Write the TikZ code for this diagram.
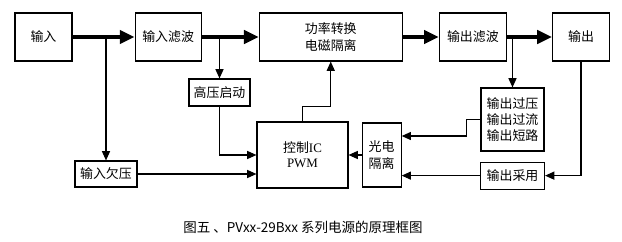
\documentclass[tikz,border=0pt]{standalone}
\usepackage{fontspec}
\newfontfamily\cjk{Noto Sans CJK SC}
\newfontfamily\latin{Liberation Serif}
\usetikzlibrary{positioning, arrows.meta}

\begin{document}
\begin{tikzpicture}[
  x=1mm, y=-1mm,
  blk/.style={draw, line width=0.8pt, inner sep=0pt, align=center,
              font=\cjk\fontsize{9.2pt}{11.5pt}\selectfont},
  topblk/.style={blk, minimum height=12mm},
  bigarr/.style={-{Triangle[length=3.7mm, width=3.3mm]}, line width=3pt},
  arr/.style={-{Triangle[length=2.3mm, width=2mm]}, line width=0.8pt},
  captxt/.style={font=\cjk\fontsize{9.6pt}{11pt}\selectfont},
]
\useasboundingbox (0,0) rectangle (155.5,60.25);

% Main power path
\node[topblk, minimum width=14.25mm] (in) at (10.875,9.25) {输入};
\node[topblk, minimum width=16.5mm, right=15.5mm of in] (inflt) {输入滤波};
\node[topblk, minimum width=35.75mm, right=14.25mm of inflt] (power)
  {功率转换\\电磁隔离};
\node[topblk, minimum width=16.75mm, right=9mm of power] (outflt) {输出滤波};
\node[topblk, minimum width=14.25mm, right=11.25mm of outflt] (out) {输出};

% Control side
\node[blk, minimum width=15.25mm, minimum height=6.75mm] (hv) at (54.875,23.125) {高压启动};
\node[blk, minimum width=22.75mm, minimum height=16.5mm] (ctrl) at (75.625,38.75)
  {控制{\latin IC}\\[-1pt]{\latin PWM}};
\node[blk, minimum width=9.75mm, minimum height=16mm, right=3.25mm of ctrl] (opto)
  {光电\\隔离};
\node[blk, minimum width=15.5mm, minimum height=6.5mm] (uv) at (26.5,43.5) {输入欠压};

% Output protection and sampling
\node[blk, minimum width=15.75mm, minimum height=15.75mm] (prot) at (128.125,29.875)
  {输出过压\\输出过流\\输出短路};
\node[blk, minimum width=16mm, minimum height=6.75mm, below=2.5mm of prot] (samp) {输出采用};

% Caption
\node[captxt] (cap) at (75.75,56.75) {图五 、PVxx-29Bxx 系列电源的原理框图};

% Arrows
\draw[bigarr] (in) -- (inflt);
\draw[bigarr] (inflt) -- (power);
\draw[bigarr] (power) -- (outflt);
\draw[bigarr] (outflt) -- (out);

\draw[arr] (uv |- in) -- (uv);
\draw[arr] (hv |- inflt) -- (hv);
\draw[arr] (prot |- outflt) -- (prot);

\draw[arr] (hv.south) |- (ctrl.west);
\draw[arr] (uv) -- (uv -| ctrl.west);
\draw[arr] (ctrl.north) -- ++(0,-3.75) -| (power.south);
\draw[arr] (prot.west) -- ++(-3.5,0) |- ([yshift=4.75mm]opto.east);
\draw[arr] (out.south) |- (samp.east);
\draw[arr] (samp) -- (samp -| opto.east);
\draw[arr] (opto) -- (ctrl);

\end{tikzpicture}
\end{document}
